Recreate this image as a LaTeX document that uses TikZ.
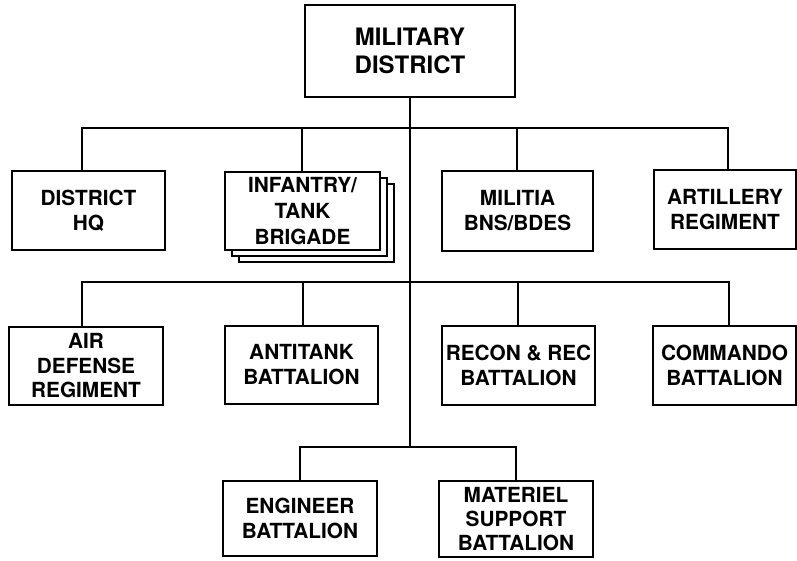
\documentclass[tikz,border=0pt]{standalone}
\usepackage{fontspec}
\setmainfont{TeX Gyre Heros}
\usetikzlibrary{backgrounds}
\begin{document}
\begin{tikzpicture}[x=1pt,y=-1pt,
  boxline/.style={line width=2pt},
  orgbox/.style={boxline, draw, fill=white, rectangle, inner sep=0pt, outer sep=0pt,
    align=center, font={\fontsize{20.8}{25}\selectfont\bfseries}},
  link/.style={line width=2pt}]
\useasboundingbox (0,0) rectangle (797,560);
% top
\node[orgbox, minimum width=210, minimum height=92, font={\fontsize{24}{28}\selectfont\bfseries}] (top) at (410,51) {MILITARY\\DISTRICT};
% row 1
\node[orgbox, minimum width=153, minimum height=79] (hq) at (88.5,210.5) {DISTRICT\\HQ};
\node[orgbox, minimum width=155, minimum height=78, font={\fontsize{20.8}{26}\selectfont\bfseries}] (inf) at (302.5,211) {INFANTRY/\\TANK\\BRIGADE};
\begin{scope}[on background layer]
\draw[boxline, fill=white] ([shift={(14pt,-12pt)}]inf.south west) rectangle ([shift={(14pt,-12pt)}]inf.north east);
\draw[boxline, fill=white] ([shift={(7pt,-6pt)}]inf.south west) rectangle ([shift={(7pt,-6pt)}]inf.north east);
\end{scope}
\node[orgbox, minimum width=151, minimum height=80] (mil) at (517.5,211) {MILITIA\\BNS/BDES};
\node[orgbox, minimum width=142, minimum height=79] (art) at (725,209.5) {ARTILLERY\\REGIMENT};
% row 2
\node[orgbox, minimum width=154, minimum height=78, font={\fontsize{20.8}{24.5}\selectfont\bfseries}] (ad) at (86,366) {AIR\\DEFENSE\\REGIMENT};
\node[orgbox, minimum width=153, minimum height=78] (at) at (301.5,365) {ANTITANK\\BATTALION};
\node[orgbox, minimum width=153, minimum height=79] (rec) at (518.5,365.5) {RECON \& REC\\BATTALION};
\node[orgbox, minimum width=143, minimum height=79] (com) at (724.5,365.5) {COMMANDO\\BATTALION};
% row 3
\node[orgbox, minimum width=154, minimum height=75] (eng) at (300,518.5) {ENGINEER\\BATTALION};
\node[orgbox, minimum width=154, minimum height=76, font={\fontsize{20.8}{24}\selectfont\bfseries}] (mat) at (516,519) {MATERIEL\\SUPPORT\\BATTALION};
% connectors
\coordinate (b1) at (410,128);
\coordinate (b2) at (410,282);
\coordinate (b3) at (410,447);
\draw[link] (top.south) -- (b3);
\draw[link] ([xshift=-6.5pt]hq.north) |- (b1) -| ([xshift=3pt]art.north);
\draw[link] ([xshift=-0.5pt]inf.north) -- ([xshift=-0.5pt]inf.north |- b1);
\draw[link] ([xshift=-0.5pt]mil.north) -- ([xshift=-0.5pt]mil.north |- b1);
\draw[link] ([xshift=-4pt]ad.north) |- (b2) -| ([xshift=4.5pt]com.north);
\draw[link] ([xshift=1.5pt]at.north) -- ([xshift=1.5pt]at.north |- b2);
\draw[link] ([xshift=-0.5pt]rec.north) -- ([xshift=-0.5pt]rec.north |- b2);
\draw[link] (eng.north) |- (b3) -| (mat.north);
\end{tikzpicture}
\end{document}
